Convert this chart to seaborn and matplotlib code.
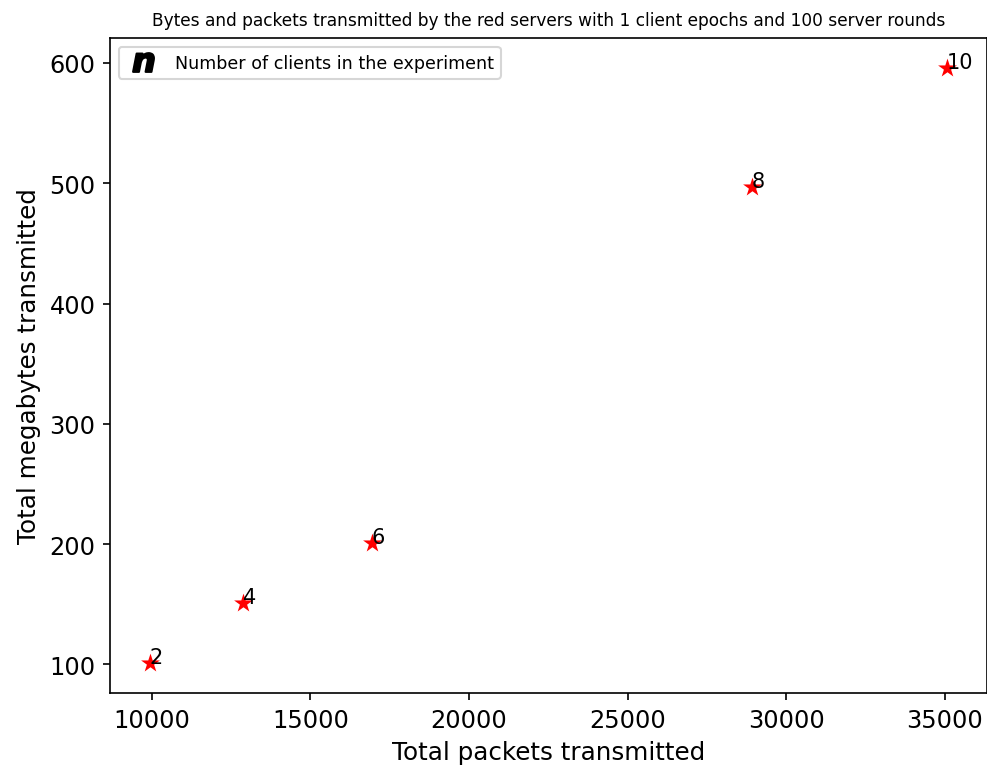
import matplotlib
matplotlib.use("Agg")
import matplotlib.pyplot as plt
from matplotlib.lines import Line2D
import pandas as pd
import seaborn as sns

clients = [2, 4, 6, 8, 10]
packets = [9940, 12890, 16940, 28910, 35070]
megabytes = [101, 151, 201, 497, 596]

df = pd.DataFrame({"clients": clients, "packets": packets, "mb": megabytes})

fig = plt.figure(figsize=(6.58, 5.133), dpi=150)
ax = fig.add_axes([110 / 987, 1 - 694 / 770, 877 / 987, 655 / 770])

sns.scatterplot(data=df, x="packets", y="mb", marker="*", color="red",
                s=90, edgecolor="red", linewidth=0, ax=ax)

# label each point with the client count
for n, x, y in zip(clients, packets, megabytes):
    ax.annotate(str(n), (x, y), fontsize=10)

ax.set_xlabel("Total packets transmitted", fontsize=11.8)
ax.set_ylabel("Total megabytes transmitted", fontsize=11.8)
ax.tick_params(labelsize=11.5)
ax.set_title("Bytes and packets transmitted by the red servers with 1 client epochs and 100 server rounds",
             fontsize=8.2)

handle = Line2D([], [], linestyle="none", marker=r"$\boldsymbol{n}$", color="black", markersize=10)
ax.legend([handle], ["Number of clients in the experiment"], loc="upper left", fontsize=8.4)

fig.savefig("out.png", dpi=150)
